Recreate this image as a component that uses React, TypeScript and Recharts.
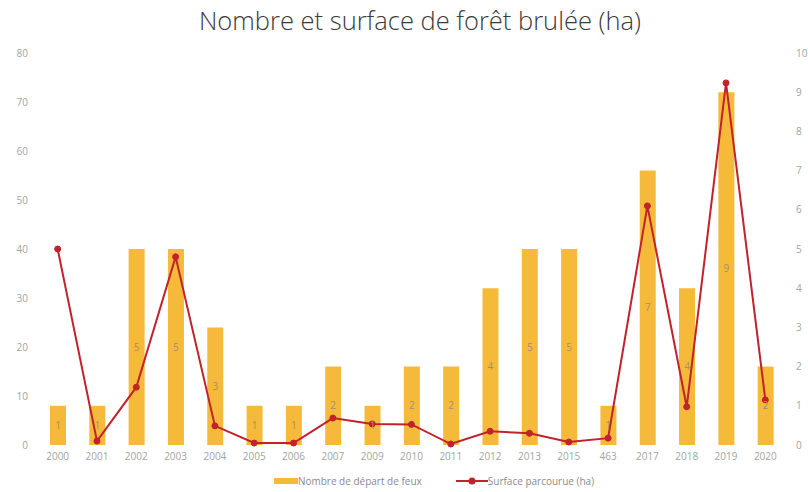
import React from "react";
import {
  ComposedChart,
  Bar,
  Line,
  XAxis,
  YAxis,
  Legend,
  LabelList,
} from "recharts";

const years = ["2000", "2001", "2002", "2003", "2004", "2005", "2006", "2007", "2009", "2010", "2011", "2012", "2013", "2015", "463", "2017", "2018", "2019", "2020"];
const fireCounts = [1, 1, 5, 5, 3, 1, 1, 2, 1, 2, 2, 4, 5, 5, 1, 7, 4, 9, 2];
const burnedArea = [40, 0.8, 11.8, 38.4, 3.9, 0.4, 0.4, 5.5, 4.3, 4.2, 0.2, 2.8, 2.4, 0.6, 1.4, 48.8, 7.8, 73.9, 9.2];
const leftTicks = [0, 10, 20, 30, 40, 50, 60, 70, 80];
const rightTicks = [0, 1, 2, 3, 4, 5, 6, 7, 8, 9, 10];

const BAR_NAME = "Nombre de départ de feux";
const LINE_NAME = "Surface parcourue (ha)";
const BAR_COLOR = "#F5BA3A";
const LINE_COLOR = "#C1222B";
const FONT = "'Open Sans', 'Noto Sans', sans-serif";

const data = years.map((y, i) => ({
  year: y,
  count: fireCounts[i],
  area: burnedArea[i],
}));

const LegendContent = () => (
  <div
    style={{
      display: "flex",
      justifyContent: "center",
      alignItems: "center",
      height: 22,
      fontFamily: FONT,
      fontSize: 10,
      color: "#8a8a8a",
      paddingLeft: 60,
    }}
  >
    <span style={{ display: "inline-flex", alignItems: "center", marginRight: 34 }}>
      <svg width={24} height={8}>
        <rect x={0} y={1} width={24} height={6} fill={BAR_COLOR} />
      </svg>
      <span>{BAR_NAME}</span>
    </span>
    <span style={{ display: "inline-flex", alignItems: "center" }}>
      <svg width={32} height={10}>
        <line x1={0} y1={5} x2={32} y2={5} stroke={LINE_COLOR} strokeWidth={2} />
        <circle cx={16} cy={5} r={3.5} fill={LINE_COLOR} />
      </svg>
      <span>{LINE_NAME}</span>
    </span>
  </div>
);

export default function App() {
  return (
    <div style={{ position: "absolute", left: 0, top: 0, width: 808, height: 492, background: "#fff" }}>
      <div
        style={{
          position: "absolute",
          left: 16,
          top: 3,
          width: 808,
          textAlign: "center",
          fontFamily: FONT,
          fontWeight: 300,
          fontSize: 25.5,
          color: "#3a3a3a",
        }}
      >
        Nombre et surface de forêt brulée (ha)
      </div>
      <ComposedChart
        width={808}
        height={492}
        data={data}
        margin={{ top: 53, right: 0, bottom: 0, left: 0 }}
      >
        <XAxis
          dataKey="year"
          axisLine={false}
          tickLine={false}
          tickSize={0}
          tickMargin={8}
          height={25}
          interval={0}
          tick={{ fontSize: 10, fill: "#a3a3a3", fontFamily: FONT }}
        />
        <YAxis
          yAxisId="left"
          orientation="left"
          domain={[0, 80]}
          ticks={leftTicks}
          width={38}
          axisLine={false}
          tickLine={false}
          tickSize={0}
          tickMargin={10}
          tick={{ fontSize: 10, fill: "#a3a3a3", fontFamily: FONT }}
        />
        <YAxis
          yAxisId="right"
          orientation="right"
          domain={[0, 10]}
          ticks={rightTicks}
          width={23}
          axisLine={false}
          tickLine={false}
          tickSize={0}
          tickMargin={11}
          tick={{ fontSize: 10, fill: "#a3a3a3", fontFamily: FONT }}
        />
        <Legend verticalAlign="bottom" height={22} content={<LegendContent />} />
        <Bar
          yAxisId="right"
          dataKey="count"
          name={BAR_NAME}
          fill={BAR_COLOR}
          barSize={16}
          isAnimationActive={false}
        >
          <LabelList
            dataKey="count"
            position="center"
            style={{ fontSize: 10, fill: "#a89060", fontFamily: FONT }}
          />
        </Bar>
        <Line
          yAxisId="left"
          type="linear"
          dataKey="area"
          name={LINE_NAME}
          stroke={LINE_COLOR}
          strokeWidth={2}
          dot={{ r: 3, fill: LINE_COLOR, stroke: LINE_COLOR, strokeWidth: 1 }}
          activeDot={false}
          isAnimationActive={false}
        />
      </ComposedChart>
    </div>
  );
}
